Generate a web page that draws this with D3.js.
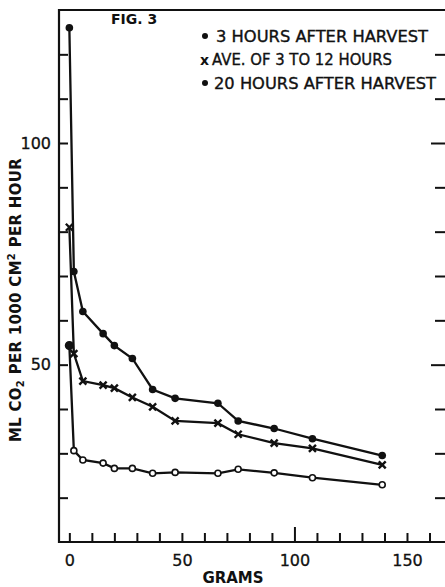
<!DOCTYPE html>
<html>
<head>
<meta charset="utf-8">
<script src="https://cdn.jsdelivr.net/npm/d3@7"></script>
<style>
  body { margin: 0; background: #fff; }
  text { font-family: "DejaVu Sans", "Liberation Sans", sans-serif; fill: #111; }
</style>
</head>
<body>
<script>
// data
const grams = [0, 2, 6, 15, 20, 28, 37, 47, 66, 75, 91, 108, 139];
const hours3 = [126, 71, 62, 57, 54.3, 51.4, 44.4, 42.4, 41.3, 37.3, 35.6, 33.3, 29.5];
const ave3to12 = [81, 52.5, 46.3, 45.4, 44.7, 42.6, 40.5, 37.3, 36.8, 34.3, 32.3, 31.1, 27.4];
const hours20 = [54.3, 30.6, 28.5, 27.8, 26.6, 26.6, 25.5, 25.7, 25.5, 26.4, 25.6, 24.5, 22.9];
const xTicks = d3.range(0, 161, 10);
const xLabels = [0, 50, 100, 150];
const yTicks = d3.range(20, 121, 10);
const yLabels = [50, 100];
const legendLabels = ["3 HOURS AFTER HARVEST", "AVE. OF 3 TO 12 HOURS", "20 HOURS AFTER HARVEST"];

const width = 445;
const height = 587;

const svg = d3.select("body").append("svg")
  .attr("width", width)
  .attr("height", height);

const x = d3.scaleLinear().domain([-4.6, 170]).range([59, 452]);
const y = d3.scaleLinear().domain([10, 130]).range([542, 10]);

// frame
svg.append("path")
  .attr("d", "M" + x(-4.6) + "," + y(10) + "V" + y(130) + "H" + x(170) + "V" + y(10) + "Z")
  .attr("fill", "none")
  .attr("stroke", "#111")
  .attr("stroke-width", 2.2);

// left axis, ticks pointing in
const leftAxis = svg.append("g")
  .attr("transform", "translate(" + x(-4.6) + ",0)")
  .call(d3.axisLeft(y).tickValues(yTicks).tickSize(-9)
    .tickFormat(function(d) { return yLabels.indexOf(d) >= 0 ? d : ""; }));
leftAxis.select(".domain").remove();
leftAxis.selectAll("line").attr("stroke", "#111").attr("stroke-width", 2);
leftAxis.selectAll("text")
  .attr("x", -8)
  .attr("font-size", 16)
  .attr("fill", "#111")
  .attr("stroke", "#111")
  .attr("stroke-width", 0.3);

// right axis, ticks pointing in
const rightAxis = svg.append("g")
  .attr("transform", "translate(" + (x(170) - 7) + ",0)")
  .call(d3.axisRight(y).tickValues(yTicks).tickSize(-10).tickFormat(""));
rightAxis.select(".domain").remove();
rightAxis.selectAll("line")
  .attr("stroke", "#111")
  .attr("stroke-width", 2)
  .attr("x2", function(d) { return d % 50 === 0 ? -14 : -10; });

// bottom axis, ticks pointing up
const bottomAxis = svg.append("g")
  .attr("transform", "translate(0," + y(10) + ")")
  .call(d3.axisBottom(x).tickValues(xTicks).tickSize(-9).tickPadding(13)
    .tickFormat(function(d) { return xLabels.indexOf(d) >= 0 ? d : ""; }));
bottomAxis.select(".domain").remove();
bottomAxis.selectAll("line")
  .attr("stroke", "#111")
  .attr("stroke-width", 2)
  .attr("y2", function(d) { return d === 100 ? -15 : -9; });
bottomAxis.selectAll("text")
  .attr("font-size", 16)
  .attr("fill", "#111")
  .attr("stroke", "#111")
  .attr("stroke-width", 0.3);

// axis titles
svg.append("text")
  .attr("x", 233)
  .attr("y", 583)
  .attr("text-anchor", "middle")
  .attr("font-size", 15)
  .attr("font-weight", "bold")
  .text("GRAMS");

const yTitle = svg.append("text")
  .attr("transform", "translate(21,300) rotate(-90)")
  .attr("text-anchor", "middle")
  .attr("font-size", 15)
  .attr("letter-spacing", 0.3)
  .attr("font-weight", "bold");
yTitle.append("tspan").text("ML CO");
yTitle.append("tspan").attr("font-size", 10).attr("dy", 3).text("2");
yTitle.append("tspan").attr("dy", -3).text(" PER 1000 CM");
yTitle.append("tspan").attr("font-size", 10).attr("dy", -6).text("2");
yTitle.append("tspan").attr("dy", 6).text(" PER HOUR");

svg.append("text")
  .attr("x", 111)
  .attr("y", 24)
  .attr("font-size", 14)
  .attr("font-weight", "bold")
  .text("FIG. 3");

// series
const line = d3.line()
  .x(function(d) { return x(d[0]); })
  .y(function(d) { return y(d[1]); });

const series = [hours3, ave3to12, hours20].map(function(vals) {
  return grams.map(function(g, i) { return [g, vals[i]]; });
});

series.forEach(function(pts) {
  svg.append("path")
    .datum(pts)
    .attr("d", line)
    .attr("fill", "none")
    .attr("stroke", "#111")
    .attr("stroke-width", 2.3);
});

// 3 hours: filled dots
svg.selectAll(".dot3")
  .data(series[0])
  .enter()
  .append("circle")
  .attr("cx", function(d) { return x(d[0]); })
  .attr("cy", function(d) { return y(d[1]); })
  .attr("r", 3.8)
  .attr("fill", "#111");

// average: x marks
svg.selectAll(".xmark")
  .data(series[1])
  .enter()
  .append("path")
  .attr("d", function(d) {
    const cx = x(d[0]), cy = y(d[1]), s = 3.5;
    return "M" + (cx - s) + "," + (cy - s) + "L" + (cx + s) + "," + (cy + s) +
      "M" + (cx + s) + "," + (cy - s) + "L" + (cx - s) + "," + (cy + s);
  })
  .attr("stroke", "#111")
  .attr("stroke-width", 2.4);

// 20 hours: open circles (first one filled)
svg.selectAll(".dot20")
  .data(series[2])
  .enter()
  .append("circle")
  .attr("cx", function(d) { return x(d[0]); })
  .attr("cy", function(d) { return y(d[1]); })
  .attr("r", function(d, i) { return i === 0 ? 3.8 : 3; })
  .attr("fill", function(d, i) { return i === 0 ? "#111" : "#fff"; })
  .attr("stroke", "#111")
  .attr("stroke-width", 1.6);

// legend
const legendY = [42, 65, 89];
const legendTextX = [216, 212, 214];
const legendTextLen = [212, 180, 222];
legendLabels.forEach(function(label, i) {
  if (i === 1) {
    svg.append("text")
      .attr("x", 200)
      .attr("y", legendY[i])
      .attr("font-size", 14)
      .attr("font-weight", "bold")
      .text("x");
  } else {
    svg.append("circle")
      .attr("cx", 205)
      .attr("cy", legendY[i] - 6)
      .attr("r", 3)
      .attr("fill", "#111");
  }
  svg.append("text")
    .attr("x", legendTextX[i])
    .attr("y", legendY[i])
    .attr("font-size", 15)
    .attr("stroke", "#111")
    .attr("stroke-width", 0.35)
    .attr("textLength", legendTextLen[i])
    .attr("lengthAdjust", "spacingAndGlyphs")
    .text(label);
});
</script>
</body>
</html>
